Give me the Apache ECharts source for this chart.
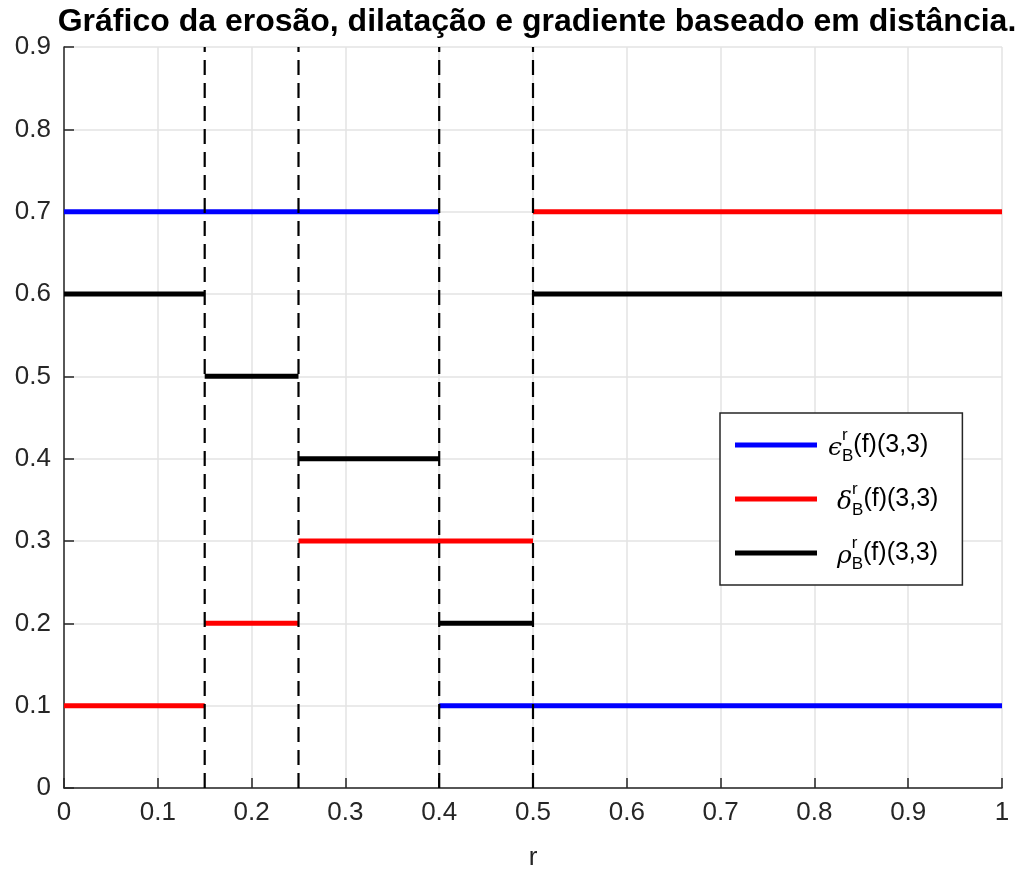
<!DOCTYPE html>
<html>
<head>
<meta charset="utf-8">
<script src="https://cdn.jsdelivr.net/npm/echarts@6/dist/echarts.min.js"></script>
<style>
  html, body { margin: 0; padding: 0; background: #fff; }
  #chart { width: 1019px; height: 876px; }
</style>
</head>
<body>
<div id="chart"></div>
<script>
// segments: [xStart, xEnd, y]
const erosaoSeg = [[0, 0.4, 0.7], [0.4, 1, 0.1]]
const dilatacaoSeg = [[0, 0.15, 0.1], [0.15, 0.25, 0.2], [0.25, 0.5, 0.3], [0.5, 1, 0.7]]
const gradienteSeg = [[0, 0.15, 0.6], [0.15, 0.25, 0.5], [0.25, 0.4, 0.4], [0.4, 0.5, 0.2], [0.5, 1, 0.6]]
const limites = [0.15, 0.25, 0.4, 0.5]
const xTicks = [0, 0.1, 0.2, 0.3, 0.4, 0.5, 0.6, 0.7, 0.8, 0.9, 1]
const yTicks = [0, 0.1, 0.2, 0.3, 0.4, 0.5, 0.6, 0.7, 0.8, 0.9]

const nomes = ['erosao', 'dilatacao', 'gradiente']
const simbolos = { erosao: 'ϵ', dilatacao: 'δ', gradiente: 'ρ' }
const cores = { erosao: '#0000ff', dilatacao: '#ff0000', gradiente: '#000000' }

const chart = echarts.init(document.getElementById('chart'))

let series = []
function addSegs (name, segs) {
  segs.forEach(s => {
    series.push({
      name: name,
      type: 'line',
      data: [[s[0], s[2]], [s[1], s[2]]],
      showSymbol: false,
      symbol: 'none',
      silent: true,
      lineStyle: { color: cores[name], width: 5, cap: 'butt' },
      itemStyle: { color: cores[name] },
      z: 3
    })
  })
}
addSegs('erosao', erosaoSeg)
addSegs('dilatacao', dilatacaoSeg)
addSegs('gradiente', gradienteSeg)

limites.forEach(x => {
  series.push({
    name: 'limite',
    type: 'line',
    data: [[x, yTicks[0]], [x, yTicks[yTicks.length - 1]]],
    symbol: 'none',
    silent: true,
    lineStyle: { color: '#000', width: 2.2, type: [15, 8] },
    z: 4
  })
})

const labelFont = 'Liberation Sans, Arial, sans-serif'
const grego = { fontSize: 25, fontStyle: 'italic', fontFamily: 'DejaVu Serif, serif', lineHeight: 40, verticalAlign: 'middle' }

let option = {
  animation: false,
  backgroundColor: '#fff',
  title: {
    text: 'Gráfico da erosão, dilatação e gradiente baseado em distância.',
    left: 532,
    textAlign: 'center',
    top: 1,
    textStyle: { fontFamily: labelFont, fontSize: 32, fontWeight: 'bold', color: '#000' }
  },
  grid: { left: 64, right: 17, top: 47, bottom: 87 },
  legend: {
    data: nomes,
    orient: 'vertical',
    left: 720,
    top: 413,
    padding: [12, 24, 12, 15],
    itemGap: 14,
    itemWidth: 82,
    itemHeight: 5,
    icon: 'rect',
    backgroundColor: '#fff',
    borderColor: '#262626',
    borderWidth: 1.5,
    borderRadius: 0,
    selectedMode: false,
    formatter: name => '{' + (name === 'erosao' ? 'g1' : 'g2') + '|' + simbolos[name] + '}{sup|r}{sub|B}{t|(f)(3,3)}',
    textStyle: {
      fontFamily: labelFont,
      color: '#000',
      rich: {
        g1: Object.assign({}, grego, { padding: [6, 0, 0, 6] }),
        g2: Object.assign({}, grego, { padding: [6, 0, 0, 15] }),
        sup: { fontSize: 17, width: 0, verticalAlign: 'top', padding: [2, 0, 0, 0], lineHeight: 40 },
        sub: { fontSize: 17, verticalAlign: 'bottom', lineHeight: 40, padding: [0, 0, 0, 0] },
        t: { fontSize: 25, lineHeight: 40, verticalAlign: 'middle' }
      }
    }
  },
  xAxis: {
    type: 'value',
    min: 0,
    max: 1,
    interval: 0.1,
    name: 'r',
    nameLocation: 'middle',
    nameGap: 57,
    nameTextStyle: { fontFamily: labelFont, fontSize: 26, color: '#262626' },
    axisLine: { show: true, lineStyle: { color: '#262626', width: 1.5 } },
    axisTick: { show: true, inside: true, length: 10, lineStyle: { color: '#262626', width: 1.5 } },
    axisLabel: {
      fontFamily: labelFont, fontSize: 26, color: '#262626', margin: 12,
      formatter: v => xTicks.includes(Math.round(v * 10) / 10) ? String(Math.round(v * 10) / 10) : ''
    },
    splitLine: { show: true, lineStyle: { color: '#e3e3e3', width: 1.5 } }
  },
  yAxis: {
    type: 'value',
    min: 0,
    max: 0.9,
    interval: 0.1,
    axisLine: { show: true, lineStyle: { color: '#262626', width: 1.5 } },
    axisTick: { show: true, inside: true, length: 10, lineStyle: { color: '#262626', width: 1.5 } },
    axisLabel: {
      fontFamily: labelFont, fontSize: 26, color: '#262626', margin: 13,
      formatter: v => yTicks.includes(Math.round(v * 10) / 10) ? String(Math.round(v * 10) / 10) : ''
    },
    splitLine: { show: true, lineStyle: { color: '#e3e3e3', width: 1.5 } }
  },
  series: series
}

chart.setOption(option)
</script>
</body>
</html>
